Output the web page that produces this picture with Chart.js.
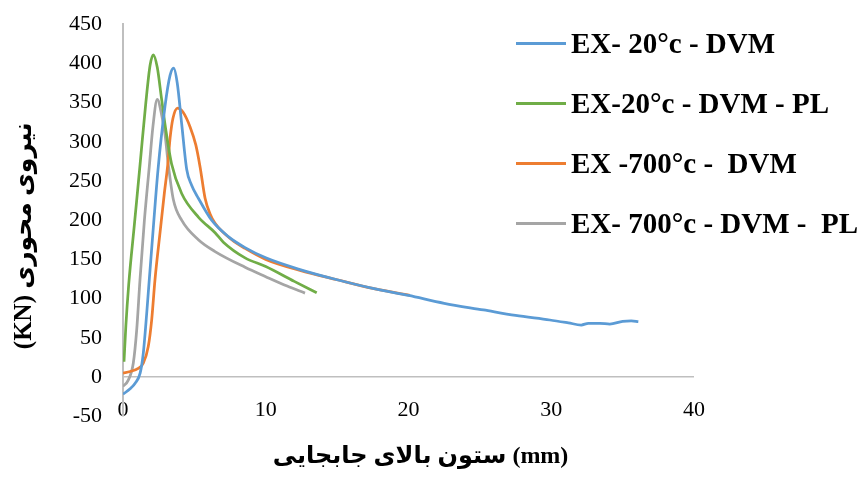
<!DOCTYPE html>
<html>
<head>
<meta charset="utf-8">
<script src="https://cdn.jsdelivr.net/npm/chart.js@4.4.1/dist/chart.umd.min.js"></script>
<style>
    html, body { margin: 0; padding: 0; background: #fff; }
    #wrap { position: relative; width: 866px; height: 479px; }
    #legend {
        position: absolute; left: 516px; top: 13px;
        font-family: "Liberation Serif", "Times New Roman", serif;
        font-weight: bold; font-size: 29px; color: #000;
    }
    .item { display: flex; align-items: center; height: 60px; white-space: pre; }
    .swatch { width: 50px; height: 3px; margin-right: 5px; }
</style>
</head>
<body>
<div id="wrap">
    <canvas id="chart" width="866" height="479"></canvas>
    <div id="legend"></div>
</div>
<script>
// --- Data ---
const seriesLabels = ['EX- 20°c - DVM', 'EX-20°c - DVM - PL', 'EX -700°c -  DVM', 'EX- 700°c - DVM -  PL'];
const seriesColors = ['#5B9BD5', '#70AD47', '#ED7D31', '#A5A5A5'];

const ex20X = [0, 0.5, 0.85, 1.2, 1.42, 1.66, 1.84, 2.1, 2.45, 2.94, 3.3, 3.55, 3.8, 4.11, 4.46, 4.8, 5.28, 6.21, 7.38, 8.55, 10, 12.4, 15, 17.5, 20, 22.5, 25.25, 27.5, 29.9, 31.2, 32.1, 32.6, 33.4, 34.1, 35, 35.6, 36.1];
const ex20Y = [-22, -15, -8, 5, 30, 81, 124, 185, 264, 345, 385, 394, 375, 323, 265, 245, 228, 200, 179, 165, 152, 137, 124, 113, 104, 94, 85.5, 78.5, 72.7, 69, 66.3, 68.5, 68.5, 67.6, 71, 71.5, 70.5];

const ex20PlX = [0.07, 0.2, 0.4, 0.8, 1.19, 1.6, 1.9, 2.12, 2.4, 2.7, 3.0, 3.4, 4.11, 5.28, 6.45, 7.03, 8.55, 10, 12, 13.57];
const ex20PlY = [19.5, 65, 118, 195, 270, 350, 398, 411, 395, 355, 315, 272, 234, 204, 184, 172, 152, 141, 122, 107.5];

const ex700X = [0, 0.5, 1.07, 1.42, 1.77, 2.01, 2.24, 2.6, 2.9, 3.13, 3.3, 3.5, 3.83, 4.2, 4.7, 5.1, 5.4, 5.75, 6.1, 6.45, 7.62, 8.55, 10, 12.4, 15, 17.5, 20.1];
const ex700Y = [5, 7, 11, 17.5, 39, 73, 124, 185, 235, 270, 305, 330, 343, 338, 319, 296, 268, 228, 208, 196, 175, 164, 150, 136, 124, 113, 104];

const ex700PlX = [0, 0.37, 0.72, 0.96, 1.19, 1.5, 1.84, 2.1, 2.4, 2.7, 2.94, 3.18, 3.53, 4.11, 5.28, 6.45, 8.55, 10, 11.5, 12.75];
const ex700PlY = [-12, -4, 17.5, 60, 124, 200, 268, 320, 354, 335, 310, 270, 226, 200, 175, 160, 140, 128, 116, 107];

const seriesX = [ex20X, ex20PlX, ex700X, ex700PlX];
const seriesY = [ex20Y, ex20PlY, ex700Y, ex700PlY];

// word order chosen so the canvas shows the words as the original does
const xTitle = '    ستون بالای جابجایی (mm)';
const yTitle = '(KN) نیروی محوری     ';

// --- Build datasets ---
const datasets = seriesLabels.map((label, i) => ({
    label: label,
    data: seriesX[i].map((x, j) => ({ x: x, y: seriesY[i][j] })),
    borderColor: seriesColors[i],
    backgroundColor: seriesColors[i],
    borderWidth: 2.75,
    showLine: true,
    pointRadius: 0,
    cubicInterpolationMode: 'monotone',
    fill: false
}));

const serif = '"Liberation Serif", "DejaVu Sans", serif';

new Chart(document.getElementById('chart'), {
    type: 'scatter',
    data: { datasets: datasets },
    options: {
        responsive: false,
        animation: false,
        layout: { padding: { left: 6, right: 172, top: 0, bottom: 4 } },
        plugins: {
            legend: { display: false },
            tooltip: { enabled: false }
        },
        scales: {
            x: {
                type: 'linear',
                min: 0, max: 40,
                grid: { display: false, drawTicks: false },
                border: { display: false },
                // mirrored so the labels can sit a little above the plot's bottom edge, as in the original
                ticks: { stepSize: 10, color: '#000', mirror: true, padding: -7, font: { family: serif, size: 22 } },
                title: {
                    display: true, text: xTitle, color: '#000',
                    font: { family: serif, size: 24, weight: 'bold' },
                    padding: { top: 40, bottom: 4 }
                }
            },
            y: {
                min: -50, max: 450,
                grid: {
                    drawTicks: true,
                    tickLength: 10,
                    tickColor: 'rgba(0,0,0,0)',
                    color: ctx => (ctx.tick && ctx.tick.value === 0) ? '#BFBFBF' : 'rgba(0,0,0,0)',
                    lineWidth: 1.5
                },
                border: { display: true, color: '#BFBFBF', width: 2 },
                ticks: { stepSize: 50, color: '#000', padding: 11, font: { family: serif, size: 22 } },
                title: {
                    display: true, text: yTitle, color: '#000',
                    font: { family: serif, size: 25, weight: 'bold' },
                    padding: { top: 4, bottom: 18 }
                }
            }
        }
    }
});

// --- HTML legend ---
const legendEl = document.getElementById('legend');
seriesLabels.forEach((label, i) => {
    const row = document.createElement('div');
    row.className = 'item';
    const sw = document.createElement('span');
    sw.className = 'swatch';
    sw.style.background = seriesColors[i];
    const txt = document.createElement('span');
    txt.textContent = label;
    row.appendChild(sw);
    row.appendChild(txt);
    legendEl.appendChild(row);
});
</script>
</body>
</html>
